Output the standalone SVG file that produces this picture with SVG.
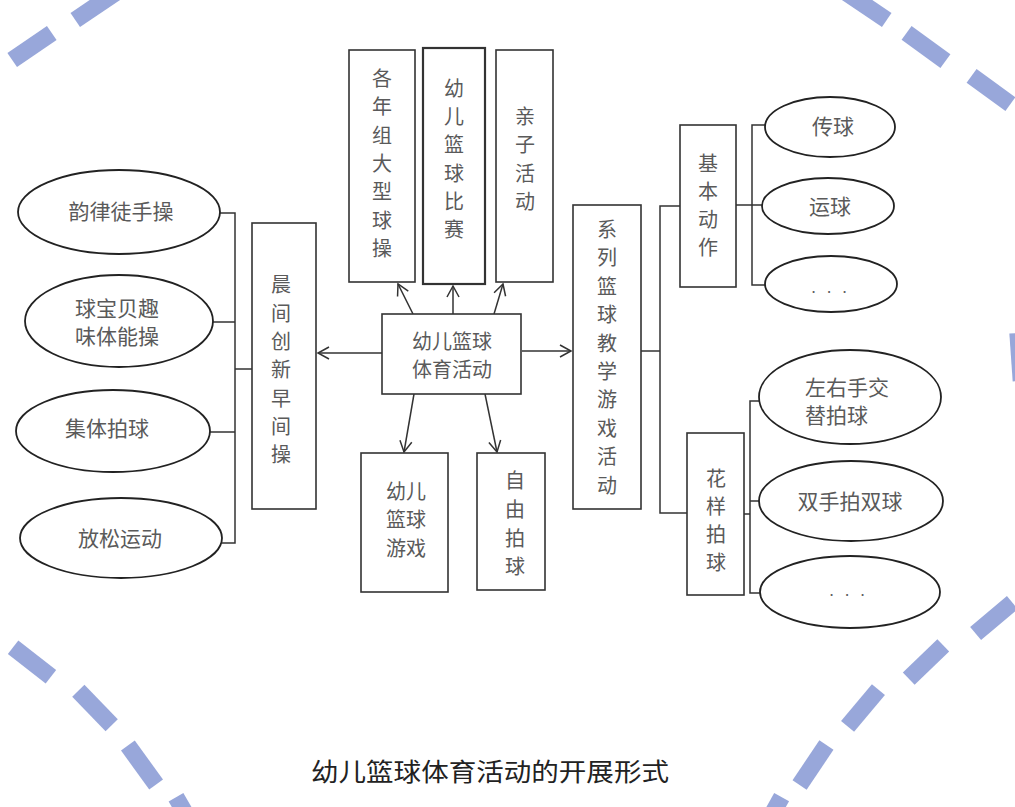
<svg xmlns="http://www.w3.org/2000/svg" width="1015" height="807" viewBox="0 0 1015 807">
<style>
.box{fill:#fff;stroke:#333;stroke-width:1.6}
.ell{fill:#fff;stroke:#222;stroke-width:1.8}
.t{font-family:"Noto Sans CJK SC","Noto Sans",sans-serif;font-size:20px;fill:#5a5a5a;text-anchor:middle;dominant-baseline:central}
.ln{fill:none;stroke:#333;stroke-width:1.5}
.dash{fill:#98a7da}
</style>
<defs>
<marker id="ah" markerUnits="userSpaceOnUse" markerWidth="14" markerHeight="16" refX="12" refY="7" orient="auto" viewBox="0 0 14 14">
<path d="M1,1 L12,7 L1,13" fill="none" stroke="#333" stroke-width="1.5"/>
</marker>
</defs>
<rect width="1015" height="807" fill="#fff"/>
<g id="decoration">
<rect class="dash" x="-24" y="-8.5" width="48" height="17" transform="translate(32,46.5) rotate(-34.5)"/>
<rect class="dash" x="-25" y="-8.5" width="50" height="17" transform="translate(96,6) rotate(-34)"/>
<rect class="dash" x="-25" y="-8.5" width="50" height="17" transform="translate(866,6) rotate(34)"/>
<rect class="dash" x="-24" y="-8.5" width="48" height="17" transform="translate(926,47) rotate(36)"/>
<rect class="dash" x="-24" y="-8.5" width="48" height="17" transform="translate(991,90) rotate(36)"/>
<rect class="dash" x="-8" y="-24" width="16" height="48" transform="translate(1019,357) rotate(-4)"/>
<rect class="dash" x="-24" y="-8.5" width="48" height="17" transform="translate(32,662) rotate(38)"/>
<rect class="dash" x="-24" y="-8.5" width="48" height="17" transform="translate(95,708) rotate(46)"/>
<rect class="dash" x="-24" y="-8.5" width="48" height="17" transform="translate(142,765) rotate(54)"/>
<rect class="dash" x="-24" y="-8.5" width="48" height="17" transform="translate(188,818) rotate(60)"/>
<rect class="dash" x="-24" y="-8.5" width="48" height="17" transform="translate(994,618) rotate(-40)"/>
<rect class="dash" x="-24" y="-8.5" width="48" height="17" transform="translate(926,662) rotate(-44)"/>
<rect class="dash" x="-24" y="-8.5" width="48" height="17" transform="translate(863,708) rotate(-50)"/>
<rect class="dash" x="-24" y="-8.5" width="48" height="17" transform="translate(813,765) rotate(-56)"/>
<rect class="dash" x="-24" y="-8.5" width="48" height="17" transform="translate(770,818) rotate(-61)"/>
</g>
<g id="connectors">
<path class="ln" d="M220,213 H235 V543 H222 M213,322 H235 M210,432 H235 M235,369 H252"/>
<path class="ln" d="M641,351 H660 M680,206 H660 V513 H687"/>
<path class="ln" d="M736,205 H752 M765,125 H752 V285 H765 M752,205 H762"/>
<path class="ln" d="M744,514 H750 M759,401 H750 V593 H760 M750,501 H759"/>
<path class="ln" d="M382,353 L318,353" marker-end="url(#ah)"/>
<path class="ln" d="M522,351 L571,351" marker-end="url(#ah)"/>
<path class="ln" d="M413,314 L398,284" marker-end="url(#ah)"/>
<path class="ln" d="M453,314 L453,286" marker-end="url(#ah)"/>
<path class="ln" d="M494,314 L503,284" marker-end="url(#ah)"/>
<path class="ln" d="M414,394 L404,452" marker-end="url(#ah)"/>
<path class="ln" d="M485,394 L497,452" marker-end="url(#ah)"/>
</g>
<g id="n_center">
<rect class="box" x="382" y="314" width="139" height="80"/>
<text class="t" x="452" y="340">幼儿篮球</text>
<text class="t" x="452" y="368">体育活动</text>
</g>
<g id="n_ganian">
<rect class="box" x="349" y="50" width="66" height="232"/>
<text class="t"><tspan x="382" y="77">各</tspan><tspan x="382" y="105">年</tspan><tspan x="382" y="134">组</tspan><tspan x="382" y="162">大</tspan><tspan x="382" y="190">型</tspan><tspan x="382" y="219">球</tspan><tspan x="382" y="247">操</tspan></text>
</g>
<g id="n_bisai">
<rect class="box" x="423" y="48" width="62" height="236" style="stroke-width:2.2"/>
<text class="t"><tspan x="454" y="87">幼</tspan><tspan x="454" y="115">儿</tspan><tspan x="454" y="143">篮</tspan><tspan x="454" y="172">球</tspan><tspan x="454" y="200">比</tspan><tspan x="454" y="228">赛</tspan></text>
</g>
<g id="n_qinzi">
<rect class="box" x="496" y="50" width="57" height="232"/>
<text class="t"><tspan x="525" y="115">亲</tspan><tspan x="525" y="143">子</tspan><tspan x="525" y="172">活</tspan><tspan x="525" y="200">动</tspan></text>
</g>
<g id="n_youxi">
<rect class="box" x="361" y="453" width="87" height="139"/>
<text class="t" x="406" y="490">幼儿</text>
<text class="t" x="406" y="518">篮球</text>
<text class="t" x="406" y="547">游戏</text>
</g>
<g id="n_ziyou">
<rect class="box" x="477" y="453" width="68" height="137"/>
<text class="t"><tspan x="515" y="479">自</tspan><tspan x="515" y="508">由</tspan><tspan x="515" y="537">拍</tspan><tspan x="515" y="565">球</tspan></text>
</g>
<g id="n_chenjian">
<rect class="box" x="252" y="223" width="64" height="286"/>
<text class="t"><tspan x="281" y="283">晨</tspan><tspan x="281" y="312">间</tspan><tspan x="281" y="340">创</tspan><tspan x="281" y="368">新</tspan><tspan x="281" y="397">早</tspan><tspan x="281" y="425">间</tspan><tspan x="281" y="453">操</tspan></text>
</g>
<g id="n_xilie">
<rect class="box" x="573" y="205" width="68" height="304"/>
<text class="t"><tspan x="607" y="228">系</tspan><tspan x="607" y="256">列</tspan><tspan x="607" y="285">篮</tspan><tspan x="607" y="313">球</tspan><tspan x="607" y="342">教</tspan><tspan x="607" y="370">学</tspan><tspan x="607" y="398">游</tspan><tspan x="607" y="427">戏</tspan><tspan x="607" y="455">活</tspan><tspan x="607" y="484">动</tspan></text>
</g>
<g id="n_jiben">
<rect class="box" x="680" y="125" width="56" height="162"/>
<text class="t"><tspan x="708" y="162">基</tspan><tspan x="708" y="190">本</tspan><tspan x="708" y="218">动</tspan><tspan x="708" y="246">作</tspan></text>
</g>
<g id="n_huayang">
<rect class="box" x="687" y="433" width="57" height="162"/>
<text class="t"><tspan x="716" y="477">花</tspan><tspan x="716" y="505">样</tspan><tspan x="716" y="533">拍</tspan><tspan x="716" y="561">球</tspan></text>
</g>
<g id="e_yunlv">
<ellipse class="ell" cx="119" cy="212" rx="101" ry="42"/>
<text class="t" x="121" y="210" style="font-size:21px">韵律徒手操</text>
</g>
<g id="e_qiubaobei">
<ellipse class="ell" cx="119" cy="321" rx="94" ry="46"/>
<text class="t" x="117" y="307" style="font-size:21px">球宝贝趣</text>
<text class="t" x="117" y="335" style="font-size:21px">味体能操</text>
</g>
<g id="e_jiti">
<ellipse class="ell" cx="113" cy="431" rx="97" ry="41"/>
<text class="t" x="107" y="427" style="font-size:21px">集体拍球</text>
</g>
<g id="e_fangsong">
<ellipse class="ell" cx="121" cy="538" rx="101" ry="40"/>
<text class="t" x="120" y="537" style="font-size:21px">放松运动</text>
</g>
<g id="e_chuanqiu">
<ellipse class="ell" cx="830" cy="127" rx="65" ry="30"/>
<text class="t" x="833" y="125" style="font-size:21px">传球</text>
</g>
<g id="e_yunqiu">
<ellipse class="ell" cx="828" cy="206" rx="66" ry="28"/>
<text class="t" x="830" y="205" style="font-size:21px">运球</text>
</g>
<g id="e_more1">
<ellipse class="ell" cx="831" cy="284" rx="66" ry="28"/>
<text class="t" x="831" y="286" style="font-size:15px;letter-spacing:4px">. . .</text>
</g>
<g id="e_zuoyou">
<ellipse class="ell" cx="850" cy="397" rx="91" ry="47"/>
<text class="t" x="805" y="386" style="text-anchor:start;font-size:21px">左右手交</text>
<text class="t" x="805" y="414" style="text-anchor:start;font-size:21px">替拍球</text>
</g>
<g id="e_shuangshou">
<ellipse class="ell" cx="851" cy="501" rx="92" ry="40"/>
<text class="t" x="850" y="500" style="font-size:21px">双手拍双球</text>
</g>
<g id="e_more2">
<ellipse class="ell" cx="850" cy="592" rx="90" ry="36"/>
<text class="t" x="849" y="589" style="font-size:15px;letter-spacing:4px">. . .</text>
</g>
<g id="caption">
<text x="311" y="770" textLength="358" lengthAdjust="spacingAndGlyphs" style="font-family:'Noto Sans CJK SC','Noto Sans',sans-serif;font-size:25px;fill:#222;dominant-baseline:central">幼儿篮球体育活动的开展形式</text>
</g>
</svg>
